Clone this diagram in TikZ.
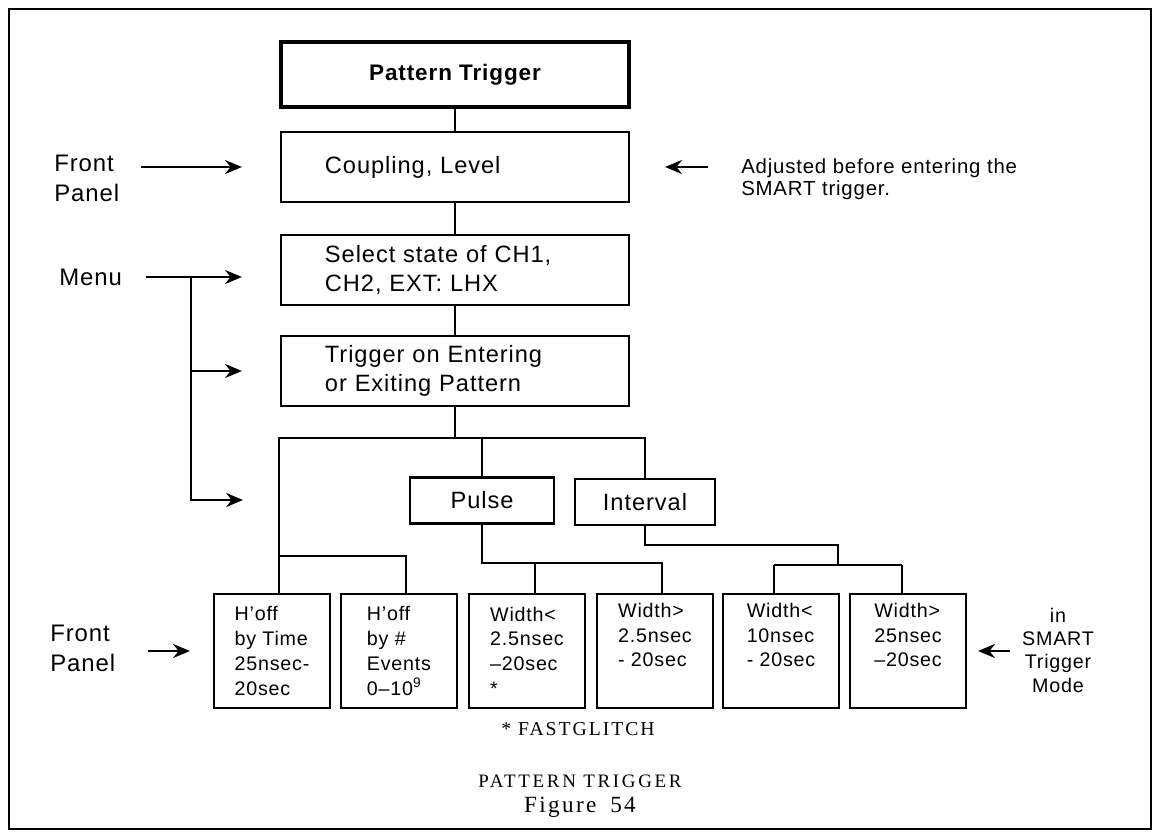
\documentclass[tikz,border=0pt]{standalone}
\usepackage{fontspec}
\setmainfont{Liberation Sans}[LetterSpace=4]
\newfontfamily\capfont{Liberation Serif}[LetterSpace=10]
\usetikzlibrary{arrows.meta,calc}

\begin{document}
\begin{tikzpicture}[x=0.025cm,y=-0.025cm,>={Stealth[length=12pt,width=10pt]},
		wire/.style={line width=1.2pt},
		arr/.style={->,line width=1.2pt},
		head/.style={draw,line width=2.8pt,minimum width=8.7cm,minimum height=1.625cm,font=\bfseries\fontsize{16}{19}\selectfont},
		box/.style={draw,line width=1.5pt,text width=6.5cm,inner xsep=1.1cm,inner ysep=0pt,minimum height=1.75cm,align=left,font=\fontsize{16.8}{20.5}\selectfont},
		tab/.style={draw,line width=1.5pt,minimum width=3.5cm,minimum height=1.15cm,font=\fontsize{16.8}{19}\selectfont},
		leaf/.style={draw,line width=1.5pt,minimum width=2.9cm,minimum height=2.85cm,align=left,font=\fontsize{14}{17.6}\selectfont},
		side/.style={inner sep=0pt,align=left,font=\fontsize{17}{21.3}\selectfont},
		note/.style={inner sep=0pt,align=left,font=\fontsize{14.5}{15.8}\selectfont},
		capt/.style={inner sep=0pt,font=\capfont\fontsize{14}{16}\selectfont}]
		\useasboundingbox (0,0) rectangle (1155,839);
		% outer frame
		\draw[line width=1.8pt] (9,9) rectangle (1151,829);
		% main column
		\node[head] (trig) at (455,74.5) {Pattern Trigger};
		\node[box]  (coup) at (455,167)  {Coupling, Level};
		\node[box]  (sel)  at (455,270)  {Select state of CH1,\\CH2, EXT: LHX};
		\node[box]  (ent)  at (455,371)  {Trigger on Entering\\or Exiting Pattern};
		% pulse / interval
		\node[tab,minimum width=3.6cm] (pulse) at (482,500.5) {Pulse};
		\node[tab]  (intv) at (645,502)  {Interval};
		% bottom row
		\node[leaf] (hoffT) at (272,651) {H'off\\by Time\\25nsec-\\20sec};
		\node[leaf] (hoffE) at (399,651) {H'off\\by \#\\Events\\0--10\textsuperscript{9}};
		\node[leaf] (pwLo)  at (527,651) {Width<\\2.5nsec\\--20sec\\*};
		\node[leaf] (pwHi)  at (655,651) {Width>\\2.5nsec\\- 20sec\\\strut};
		\node[leaf] (iwLo)  at (781,651) {Width<\\10nsec\\- 20sec\\\strut};
		\node[leaf] (iwHi)  at (908,651) {Width>\\25nsec\\--20sec\\\strut};
		% side labels
		\node[side,anchor=west] (fpTop) at (54,178)  {Front\\Panel};
		\node[side,anchor=west] (menu)  at (59,277)  {Menu};
		\node[side,anchor=west] (fpBot) at (50,648)  {Front\\Panel};
		\node[note,anchor=west] (adj)   at (741,179) {Adjusted before entering the\\SMART trigger.};
		\node[note,align=center,font=\fontsize{14}{16.6}\selectfont] (smart) at (1058,650) {in\\SMART\\Trigger\\Mode};
		% captions
		\node[capt] (glitch) at (578,729) {* FASTGLITCH};
		\node[capt,font=\capfont\fontsize{13.5}{15}\addfontfeature{LetterSpace=14}] (title) at (580,781) {PATTERN TRIGGER};
		\node[capt,font=\capfont\fontsize{16.5}{18}\selectfont] (fig) at (580,807) {Figure\hspace{0.6em}54};
		% junctions
		\coordinate (jTop)   at (455,438);
		\coordinate (jHold)  at (279,556);
		\coordinate (jHoldR) at (406,556);
		\coordinate (jPul)   at (482,563);
		\coordinate (jPulL)  at (535,563);
		\coordinate (jPulR)  at (662,563);
		\coordinate (jIntA)  at (645,545);
		\coordinate (jIntB)  at (838,545);
		\coordinate (jIntL)  at (774,565);
		\coordinate (jIntR)  at (902,565);
		\coordinate (jMenu)  at (191,277);
		\coordinate (jMenuB) at (191,500);
		\coordinate (menuTip) at (243,500);
		% column wires
		\draw[wire] (trig) -- (coup);
		\draw[wire] (coup) -- (sel);
		\draw[wire] (sel) -- (ent);
		\draw[wire] (ent) -- (jTop);
		\draw[wire] (jTop) -| (hoffT.north -| jHold);
		\draw[wire] (jTop) -| (intv.north -| jIntA);
		\draw[wire] (pulse.north) -- (pulse.north |- jTop);
		% hold-off branch
		\draw[wire] (jHold) -- (jHoldR) -- (hoffE.north -| jHoldR);
		% pulse branch
		\draw[wire] (pulse) -- (jPul) -- (jPulR) -- (pwHi.north -| jPulR);
		\draw[wire] (jPulL) -- (pwLo.north -| jPulL);
		% interval branch
		\draw[wire] (intv) -- (jIntA) -- (jIntB) -- (jIntB |- jIntL);
		\draw[wire] (jIntL) -- (jIntR);
		\draw[wire] (jIntL) -- (iwLo.north -| jIntL);
		\draw[wire] (jIntR) -- (iwHi.north -| jIntR);
		% input arrows
		\draw[arr,shorten <=0.525cm,shorten >=0.95cm] (fpTop.east |- coup.west) -- (coup.west);
		\draw[arr,shorten <=0.6cm,shorten >=0.95cm] (menu.east) -- (menu.east -| sel.west);
		\draw[arr] (jMenu) -- (jMenuB) -- (menuTip);
		\draw[arr,shorten >=0.95cm] (jMenu |- ent.west) -- (ent.west);
		\draw[arr,shorten <=0.8cm,shorten >=0.575cm] (fpBot.east |- hoffT.west) -- (hoffT.west);
		\draw[arr,shorten <=0.825cm,shorten >=0.875cm] (adj.west |- coup.east) -- (coup.east);
		\draw[arr,shorten <=0.3cm,shorten >=0.275cm] (smart.west |- iwHi.east) -- (iwHi.east);
	\end{tikzpicture}
\end{document}
